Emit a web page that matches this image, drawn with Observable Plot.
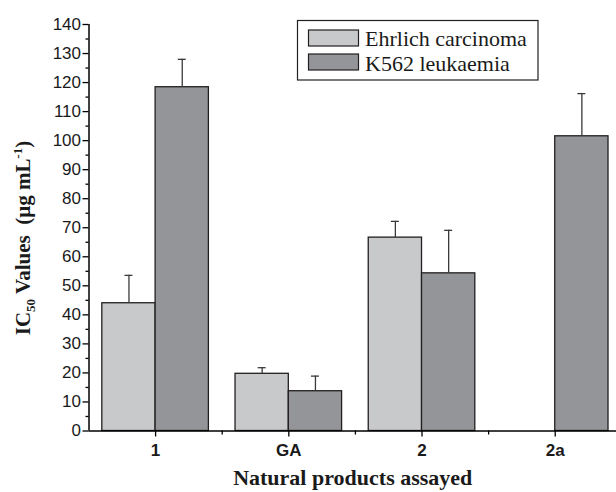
<!DOCTYPE html>
<html>
<head>
<meta charset="utf-8">
<script src="https://cdn.jsdelivr.net/npm/d3@7"></script>
<script src="https://cdn.jsdelivr.net/npm/@observablehq/plot@0.6"></script>
<style>
  body { margin: 0; background: #fff; }
  #chart svg { display: block; }
</style>
</head>
<body>
<div id="chart"></div>
<script>
const categories = ["1", "GA", "2", "2a"];
const seriesNames = ["Ehrlich carcinoma", "K562 leukaemia"];
const ehrlich = [44.0, 19.7, 66.6, null];
const ehrlichErr = [9.6, 2.1, 5.6, null];
const k562 = [118.4, 13.7, 54.3, 101.5];
const k562Err = [9.6, 5.2, 14.8, 14.7];
const seriesColors = ["#c8c9cb", "#939598"];
const yTicks = d3.range(0, 141, 10);
const yMinor = d3.range(5, 140, 10);
const xLabel = "Natural products assayed";

const rows = [];
categories.forEach((c, i) => {
  const pos = i + 1;
  if (ehrlich[i] != null) rows.push({cat: c, series: seriesNames[0], x1: pos - 0.4, x2: pos, cx: pos - 0.2, value: ehrlich[i], err: ehrlichErr[i]});
  if (k562[i] != null) rows.push({cat: c, series: seriesNames[1], x1: pos, x2: pos + 0.4, cx: pos + 0.2, value: k562[i], err: k562Err[i]});
});

const capHalf = 0.03;

const plot = Plot.plot({
  width: 616,
  height: 492,
  marginLeft: 88.5,
  marginRight: 0,
  marginTop: 24,
  marginBottom: 61.5,
  style: {fontFamily: "'Liberation Sans', Arial, sans-serif", background: "#fff", color: "#000"},
  x: {type: "linear", domain: [0.5, 4.46]},
  y: {domain: [0, 140]},
  color: {domain: seriesNames, range: seriesColors},
  marks: [
    Plot.rectY(rows, {x1: "x1", x2: "x2", y: "value", fill: "series", stroke: "#231f20", strokeWidth: 1.3}),
    Plot.ruleX(rows, {x: "cx", y1: "value", y2: d => d.value + d.err, stroke: "#3a3a3a", strokeWidth: 1.3}),
    Plot.ruleY(rows, {y: d => d.value + d.err, x1: d => d.cx - capHalf, x2: d => d.cx + capHalf, stroke: "#3a3a3a", strokeWidth: 1.3}),
    Plot.ruleX([0.5], {y1: 0, y2: 140, stroke: "#000", strokeWidth: 1.5}),
    Plot.ruleY([0], {stroke: "#000", strokeWidth: 1.5}),
    Plot.axisY({ticks: yTicks, tickSize: 6, tickPadding: 2, fontSize: 17, label: null, stroke: "#000", strokeWidth: 1.3, fill: "#1a1a1a"}),
    Plot.axisY({ticks: yMinor, tickSize: 3, tickFormat: () => "", label: null, stroke: "#000", strokeWidth: 1.3}),
    Plot.axisX({ticks: [1, 2, 3, 4], tickFormat: i => categories[i - 1], tickSize: 6, tickPadding: 7, fontSize: 17, fontWeight: "bold", label: null, stroke: "#000", strokeWidth: 1.3, fill: "#1a1a1a"}),
    Plot.axisX({ticks: [1.5, 2.5, 3.5], tickSize: 4, tickFormat: () => "", label: null, stroke: "#000", strokeWidth: 1.3}),
    Plot.text([xLabel], {frameAnchor: "bottom", lineAnchor: "middle", dy: 47, text: d => d, fontSize: 22, fontWeight: "bold", fontFamily: "'Liberation Serif', 'Times New Roman', serif", fill: "#1a1a1a"})
  ]
});

document.getElementById("chart").appendChild(plot);

const svg = d3.select(plot);
const serif = "'Liberation Serif', 'Times New Roman', serif";

// Y axis label with subscript / superscript
const yl = svg.append("text")
  .attr("transform", "translate(30,238) rotate(-90)")
  .attr("text-anchor", "middle")
  .attr("font-family", serif)
  .attr("font-weight", "bold")
  .attr("font-size", 21)
  .attr("fill", "#1a1a1a");
yl.append("tspan").text("IC");
yl.append("tspan").attr("font-size", 13).attr("dy", 5).text("50");
yl.append("tspan").attr("dy", -5).text(" Values  (μg mL");
yl.append("tspan").attr("font-size", 13).attr("dy", -8).text("-1");
yl.append("tspan").attr("dy", 8).text(")");

// Legend
const lg = svg.append("g").attr("text-anchor", "start");
lg.append("rect").attr("x", 297.5).attr("y", 20.5).attr("width", 240.5).attr("height", 59.5)
  .attr("fill", "#fff").attr("stroke", "#231f20").attr("stroke-width", 1.2);
seriesNames.forEach((name, i) => {
  lg.append("rect").attr("x", 308.5).attr("y", 30 + i * 24).attr("width", 50).attr("height", 16)
    .attr("fill", seriesColors[i]).attr("stroke", "#231f20").attr("stroke-width", 1.2);
  lg.append("text").attr("x", 365).attr("y", 45.5 + i * 25).attr("text-anchor", "start")
    .attr("font-family", serif).attr("font-size", 22).attr("fill", "#1a1a1a").text(name);
});
</script>
</body>
</html>
